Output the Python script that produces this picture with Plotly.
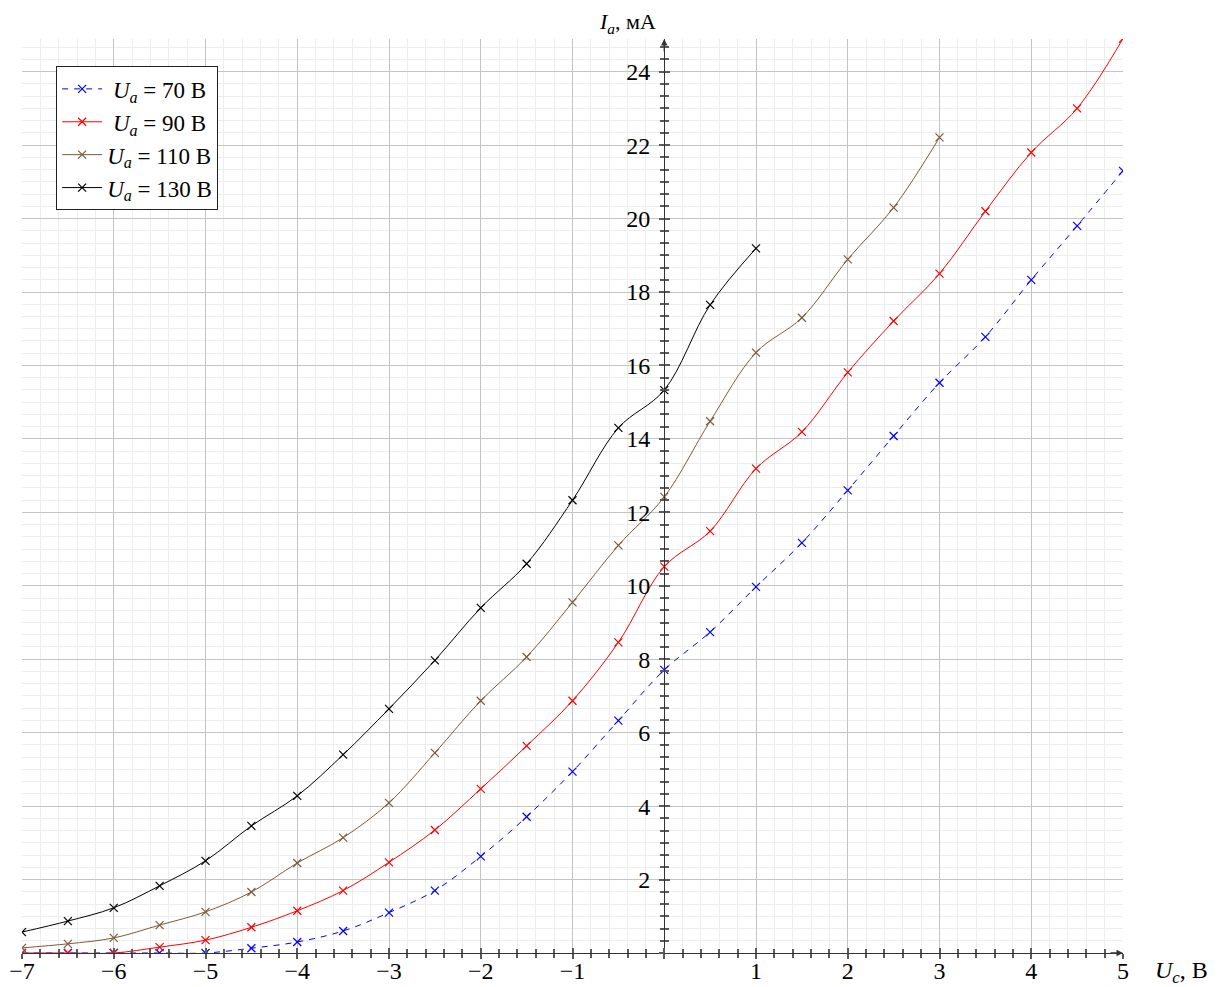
import plotly.graph_objects as go

uc = [-7, -6.5, -6, -5.5, -5, -4.5, -4, -3.5, -3, -2.5, -2, -1.5, -1, -0.5,
      0, 0.5, 1, 1.5, 2, 2.5, 3, 3.5, 4, 4.5, 5]

ia_70 = [0.0, 0.0, 0.0, 0.0, 0.0, 0.13, 0.3, 0.6, 1.1, 1.7, 2.63, 3.71, 4.94, 6.33,
         7.71, 8.74, 9.97, 11.17, 12.6, 14.08, 15.53, 16.78, 18.33, 19.8, 21.3]
ia_90 = [0.0, 0.0, 0.0, 0.16, 0.35, 0.7, 1.15, 1.7, 2.47, 3.35, 4.47, 5.64, 6.87, 8.46,
         10.52, 11.49, 13.19, 14.19, 15.81, 17.21, 18.5, 20.2, 21.8, 23.0, 24.9]
uc_110 = uc[:21]
ia_110 = [0.14, 0.25, 0.41, 0.76, 1.12, 1.66, 2.45, 3.14, 4.09, 5.45, 6.87, 8.06, 9.55, 11.1,
          12.42, 14.48, 16.35, 17.3, 18.89, 20.3, 22.21]
uc_130 = uc[:17]
ia_130 = [0.57, 0.87, 1.23, 1.83, 2.51, 3.46, 4.28, 5.4, 6.65, 7.97, 9.4, 10.6, 12.33, 14.3,
          15.33, 17.65, 19.19]

series_names = ["&nbsp;<i>U</i><sub><i>a</i></sub>&nbsp;=&nbsp;70 В",
                "&nbsp;<i>U</i><sub><i>a</i></sub>&nbsp;=&nbsp;90 В",
                "<i>U</i><sub><i>a</i></sub>&nbsp;=&nbsp;110 В",
                "<i>U</i><sub><i>a</i></sub>&nbsp;=&nbsp;130 В"]
series_x = [uc, uc, uc_110, uc_130]
series_y = [ia_70, ia_90, ia_110, ia_130]
colors = ["#0000ff", "#ff0000", "#7b5b3a", "#000000"]
dashes = ["6px,6px", "solid", "solid", "solid"]

FONT = "Liberation Serif"
FS = 24
XR = [-7, 5]
YR = [0, 24.89]

fig = go.Figure()
for name, xs, ys, c, d in zip(series_names, series_x, series_y, colors, dashes):
    fig.add_trace(go.Scatter(
        x=xs, y=ys, name=name, mode="lines+markers",
        line=dict(color=c, width=1, dash=d, shape="spline", smoothing=1.0),
        marker=dict(symbol="x-thin", size=8, line=dict(color=c, width=1.2), color=c),
    ))

# empty helper traces so that the overlay axes (outer tick halves) are drawn
fig.add_trace(go.Scatter(x=[], y=[], xaxis="x", yaxis="y2", showlegend=False, hoverinfo="skip"))
fig.add_trace(go.Scatter(x=[], y=[], xaxis="x2", yaxis="y", showlegend=False, hoverinfo="skip"))

tickc = "#5a5a5a"
axc = "#333333"
gridc = "#c4c4c4"
mgridc = "#ededed"
x0pos = (0 - XR[0]) / (XR[1] - XR[0])

common_x = dict(range=XR, dtick=1, tick0=0, tickmode="linear", showline=True, linecolor=axc,
                linewidth=1.3, zeroline=False, automargin=False)
common_y = dict(range=YR, dtick=2, tick0=0, tickmode="linear", showline=True, linecolor=axc,
                linewidth=1.3, zeroline=False, automargin=False)

# page body has an 8px margin: the figure is shrunk so the plot lands in place
fig.update_layout(
    width=1211, height=979,
    margin=dict(l=14, r=96, t=31, b=34),
    paper_bgcolor="white", plot_bgcolor="white",
    font=dict(family=FONT, size=FS, color="black"),
    xaxis=dict(**common_x, ticks="inside", ticklen=5, tickwidth=2, tickcolor=tickc,
               showgrid=True, gridcolor=gridc, gridwidth=1, ticklabelstandoff=-4,
               labelalias={"0": ""}, tickfont=dict(size=FS),
               minor=dict(dtick=0.2, tick0=0, ticks="inside", ticklen=4, tickwidth=2,
                          tickcolor=tickc, showgrid=True, gridcolor=mgridc, gridwidth=1)),
    xaxis2=dict(**common_x, overlaying="x", anchor="y", side="bottom", matches="x",
                ticks="outside", ticklen=5, tickwidth=2, tickcolor=tickc, showgrid=False,
                showticklabels=False,
                minor=dict(dtick=0.2, tick0=0, ticks="outside", ticklen=4, tickwidth=2,
                           tickcolor=tickc, showgrid=False)),
    yaxis=dict(**common_y, anchor="free", position=x0pos, side="left",
               ticks="inside", ticklen=5, tickwidth=2, tickcolor=tickc,
               showgrid=True, gridcolor=gridc, gridwidth=1, ticklabelstandoff=9,
               labelalias={"0": ""}, tickfont=dict(size=FS),
               minor=dict(dtick=2/6, tick0=0, ticks="inside", ticklen=4, tickwidth=2,
                          tickcolor=tickc, showgrid=True, gridcolor=mgridc, gridwidth=1)),
    yaxis2=dict(**common_y, overlaying="y", anchor="free", position=x0pos, side="left",
                matches="y", ticks="outside", ticklen=5, tickwidth=2, tickcolor=tickc,
                showgrid=False, showticklabels=False,
                minor=dict(dtick=2/6, tick0=0, ticks="outside", ticklen=4, tickwidth=2,
                           tickcolor=tickc, showgrid=False)),
    legend=dict(x=0.031, y=0.970, xanchor="left", yanchor="top",
                bgcolor="white", bordercolor="#222", borderwidth=1, itemwidth=40,
                font=dict(family=FONT, size=23), tracegroupgap=0),
    showlegend=True,
)

fig.add_annotation(x=0, y=1, xref="x", yref="paper", xanchor="right", yanchor="bottom",
                   xshift=-6, yshift=0, showarrow=False,
                   text="<i>I</i><sub><i>a</i></sub>, мА", font=dict(family=FONT, size=22))
fig.add_annotation(x=1, y=0, xref="paper", yref="y", xanchor="left", yanchor="top",
                   xshift=30, yshift=-2, showarrow=False,
                   text="<i>U</i><sub><i>c</i></sub>, В", font=dict(family=FONT, size=FS))
# arrow tips on the axes
fig.add_annotation(x=0, y=YR[1], xref="x", yref="y", ax=0, ay=14, showarrow=True,
                   arrowhead=2, arrowsize=1, arrowwidth=1.3, arrowcolor=axc, text="")
fig.add_annotation(x=XR[1], y=0, xref="x", yref="y", ax=-14, ay=0, showarrow=True,
                   arrowhead=2, arrowsize=1, arrowwidth=1.3, arrowcolor=axc, text="")

fig.write_html("out.html")
